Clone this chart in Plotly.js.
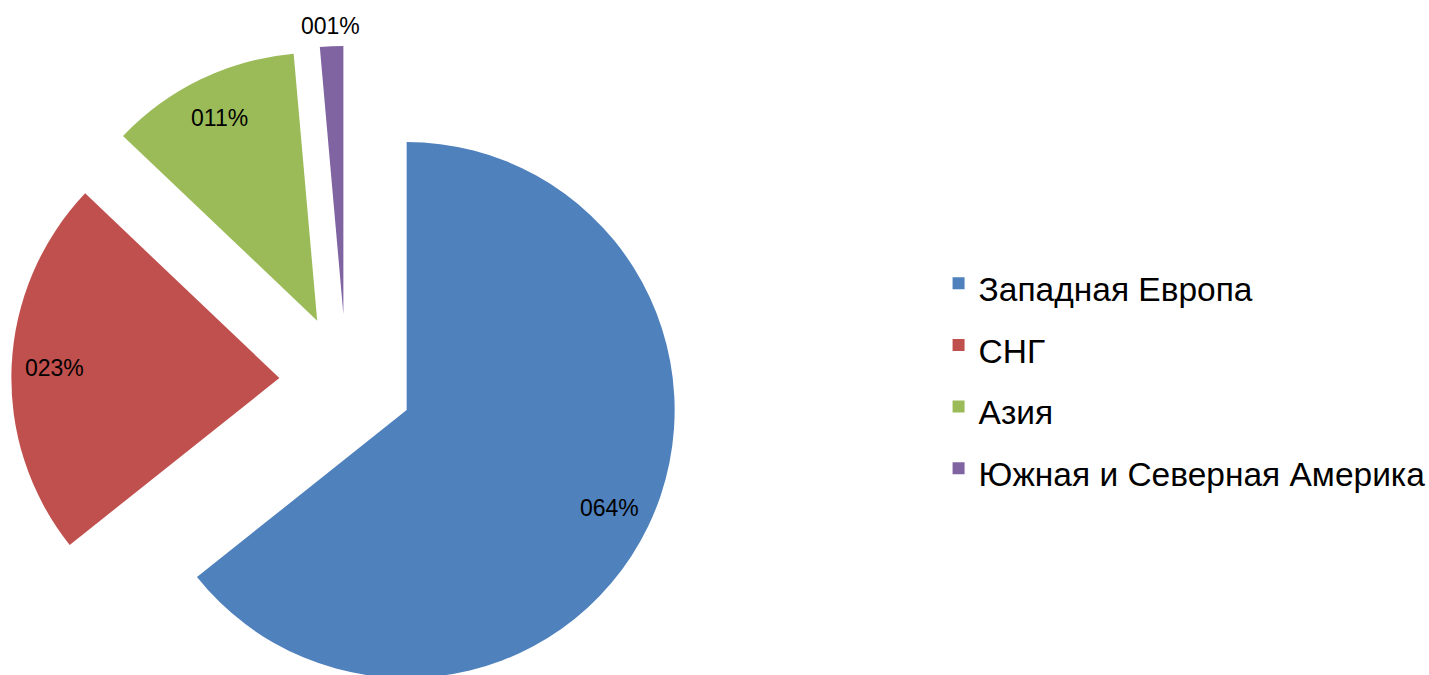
<!DOCTYPE html>
<html><head><meta charset="utf-8">
<script src="https://cdn.plot.ly/plotly-3.0.1.min.js"></script>
<style>html,body{margin:0;padding:0;overflow:hidden;background:#fff}#chart{width:1429px;height:760px}</style>
</head><body><div id="chart"></div>
<script>
// ---- data ----
const categories = ['Западная Европа', 'СНГ', 'Азия', 'Южная и Северная Америка'];
const shares = [64.3, 22.8, 11.5, 1.4];
const pctLabels = ['064%', '023%', '011%', '001%'];
const sliceColors = ['#4F81BD', '#C0504D', '#9BBB59', '#8064A2'];

// ---- layout geometry ----
const FONT = 'Liberation Sans, Arial, sans-serif';
const W = 1429, H = 760, M = {l: 0, r: 0, t: 46, b: 44};
const domX = [0, 0.48467], domY = [0, 1];
const PULL = 0.25;
const plotW = W - M.l - M.r, plotH = H - M.t - M.b;
const boxW = plotW * (domX[1] - domX[0]), boxH = plotH * (domY[1] - domY[0]);
const R = Math.min(boxW, boxH) / 2 / (1 + PULL);
const CX = M.l + plotW * (domX[0] + domX[1]) / 2;
const CY = M.t + plotH * (1 - (domY[0] + domY[1]) / 2);

// data labels placed along each slice's mid-angle (derived from the values)
const total = shares.reduce((a, b) => a + b, 0);
let cum = 0;
const annotations = shares.map((v, i) => {
  const mid = (cum + v / 2) / total * 2 * Math.PI;
  cum += v;
  const k = PULL + (v / total < 0.05 ? 1.077 : 0.84);
  const px = CX + k * R * Math.sin(mid);
  const py = CY - k * R * Math.cos(mid);
  return {
    xref: 'paper', yref: 'paper',
    x: (px - M.l) / plotW, y: 1 - (py - M.t) / plotH,
    xanchor: 'center', yanchor: 'middle', showarrow: false,
    text: pctLabels[i],
    font: {family: FONT, size: 23, color: '#000000'}
  };
});

const trace = {
  type: 'pie',
  values: shares,
  labels: categories.map(c => '<span style="font-size:33.5px">' + c + '</span>'),
  sort: false,
  direction: 'clockwise',
  rotation: 0,
  pull: PULL,
  marker: {colors: sliceColors, line: {width: 0}},
  textinfo: 'none',
  hoverinfo: 'label+percent',
  domain: {x: domX, y: domY},
  showlegend: true
};

const layout = {
  width: W, height: H,
  margin: {l: M.l, r: M.r, t: M.t, b: M.b, autoexpand: false},
  paper_bgcolor: '#ffffff',
  plot_bgcolor: '#ffffff',
  showlegend: true,
  legend: {
    x: 0.6568, y: 0.6994, xanchor: 'left', yanchor: 'top',
    font: {family: FONT, size: 45.13, color: '#000000'},
    bgcolor: 'rgba(0,0,0,0)', borderwidth: 0, traceorder: 'normal'
  },
  annotations: annotations
};

Plotly.newPlot('chart', [trace], layout, {staticPlot: true, displayModeBar: false});
</script>
</body></html>
